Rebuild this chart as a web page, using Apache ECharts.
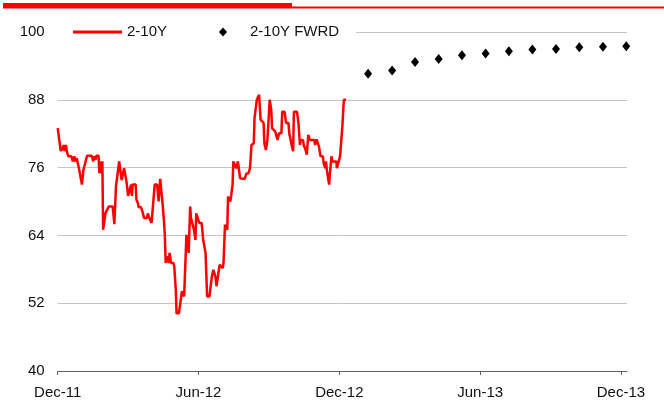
<!DOCTYPE html>
<html>
<head>
<meta charset="utf-8">
<script src="https://cdn.jsdelivr.net/npm/echarts@6/dist/echarts.min.js"></script>
<style>
html,body{margin:0;padding:0;background:#fff;}
#chart{width:664px;height:418px;}
</style>
</head>
<body>
<div id="chart"></div>
<script>
// ---- data ----
const spotName = '2-10Y';
const fwdName = '2-10Y FWRD';
const spotDates = ['2011-12-01','2011-12-03','2011-12-04','2011-12-05','2011-12-06','2011-12-07','2011-12-09','2011-12-10','2011-12-12','2011-12-13','2011-12-15','2011-12-17','2011-12-19','2011-12-21','2011-12-23','2011-12-24','2011-12-26','2011-12-27','2011-12-29','2011-12-31',
'2012-01-02','2012-01-04','2012-01-06','2012-01-08','2012-01-09','2012-01-15','2012-01-17','2012-01-18','2012-01-20','2012-01-21','2012-01-24','2012-01-25','2012-01-26','2012-01-28','2012-01-29','2012-01-30',
'2012-02-01','2012-02-02','2012-02-04','2012-02-06','2012-02-11','2012-02-13','2012-02-14','2012-02-15','2012-02-17','2012-02-19','2012-02-21','2012-02-22','2012-02-23','2012-02-25','2012-02-26','2012-02-28',
'2012-03-01','2012-03-05','2012-03-06','2012-03-07','2012-03-11','2012-03-12','2012-03-14','2012-03-15','2012-03-18','2012-03-20','2012-03-22','2012-03-26','2012-03-27','2012-03-29','2012-03-31',
'2012-04-01','2012-04-02','2012-04-05','2012-04-08','2012-04-10','2012-04-12','2012-04-14','2012-04-15','2012-04-17','2012-04-18','2012-04-19','2012-04-21','2012-04-23','2012-04-24','2012-04-26','2012-04-29','2012-04-30',
'2012-05-02','2012-05-03','2012-05-06','2012-05-08','2012-05-10','2012-05-11','2012-05-13','2012-05-15','2012-05-16','2012-05-18','2012-05-19','2012-05-21','2012-05-22','2012-05-24','2012-05-26','2012-05-28','2012-05-29','2012-05-31',
'2012-06-02','2012-06-05','2012-06-06','2012-06-07','2012-06-08','2012-06-10','2012-06-12','2012-06-15','2012-06-16','2012-06-18','2012-06-20','2012-06-22','2012-06-23','2012-06-24','2012-06-26','2012-06-28','2012-06-30',
'2012-07-02','2012-07-03','2012-07-05','2012-07-07','2012-07-08','2012-07-09','2012-07-11','2012-07-12','2012-07-13','2012-07-15','2012-07-16','2012-07-18','2012-07-20','2012-07-22','2012-07-23','2012-07-25','2012-07-27','2012-07-31',
'2012-08-02','2012-08-05','2012-08-07','2012-08-09','2012-08-11','2012-08-12','2012-08-13','2012-08-15','2012-08-16','2012-08-18','2012-08-19','2012-08-20','2012-08-21','2012-08-22','2012-08-25','2012-08-26','2012-08-28','2012-08-30',
'2012-09-01','2012-09-02','2012-09-04','2012-09-05','2012-09-09','2012-09-11','2012-09-12','2012-09-14','2012-09-17','2012-09-18','2012-09-21','2012-09-23','2012-09-26','2012-09-27','2012-09-29',
'2012-10-01','2012-10-02','2012-10-03','2012-10-07','2012-10-09','2012-10-11','2012-10-12','2012-10-15','2012-10-16','2012-10-18','2012-10-19','2012-10-20','2012-10-22','2012-10-24','2012-10-30','2012-10-31',
'2012-11-02','2012-11-04','2012-11-05','2012-11-07','2012-11-10','2012-11-11','2012-11-13','2012-11-14','2012-11-15','2012-11-16','2012-11-18','2012-11-19','2012-11-21','2012-11-22','2012-11-27','2012-11-28','2012-11-30',
'2012-12-02','2012-12-03','2012-12-05','2012-12-07','2012-12-10'];
const spotValues = [83.0,83.0,80.0,78.9,79.7,79.1,80.0,78.9,80.0,78.9,78.0,77.7,78.0,77.1,78.0,77.1,77.7,77.1,75.9,75.6,
73.0,75.6,75.9,77.7,78.1,78.1,77.1,78.0,77.4,78.1,78.1,75.0,77.1,75.0,77.1,65.0,
65.0,67.9,67.9,69.1,69.1,66.0,69.1,72.7,73.0,77.1,77.1,73.8,74.1,75.9,75.6,73.5,
71.0,73.0,71.0,73.0,73.0,70.3,69.7,69.0,69.0,68.2,67.1,67.1,67.9,67.1,67.1,
66.2,66.2,73.0,73.0,70.0,74.0,74.0,69.7,66.2,63.8,59.1,60.3,59.1,60.9,59.1,59.1,58.5,
54.4,50.2,50.2,52.0,54.1,54.1,53.2,60.3,64.1,64.1,60.9,69.1,67.1,67.4,65.0,63.2,67.9,67.9,
66.2,66.2,65.9,63.2,62.9,60.9,53.2,53.2,54.4,56.7,57.9,57.0,56.4,55.0,55.0,58.8,59.1,
58.2,59.1,65.9,66.2,65.0,70.9,70.9,70.0,70.9,73.0,77.1,77.1,75.9,77.1,77.1,74.1,74.0,74.0,
74.9,75.0,75.9,80.0,80.0,80.3,84.8,84.8,88.0,88.0,88.9,88.6,84.5,84.2,83.9,80.3,79.1,80.9,
80.9,88.0,86.2,83.0,82.4,82.7,80.9,82.1,82.1,85.9,85.9,83.9,83.9,82.1,81.8,
79.4,78.9,85.9,85.9,83.9,80.0,80.9,80.9,80.0,79.7,78.9,78.3,81.8,80.9,80.9,80.0,
81.0,80.9,79.7,78.0,78.0,76.8,75.9,77.1,75.6,74.7,73.0,75.0,78.0,77.1,77.1,75.9,75.9,
78.0,78.3,83.3,88.0,88.0];
const fwdDates = ['2013-01-08','2013-02-08','2013-03-08','2013-04-08','2013-05-08','2013-06-08','2013-07-08','2013-08-08','2013-09-08','2013-10-08','2013-11-08','2013-12-08'];
const fwdValues = [92.6,93.2,94.7,95.2,95.9,96.2,96.6,96.9,97.0,97.3,97.4,97.5];
const xTickLabels = ['Dec-11','Jun-12','Dec-12','Jun-13','Dec-13'];
const xTickDates = ['2011-12-01','2012-06-01','2012-12-01','2013-06-01','2013-12-01'];
const yMin = 40, yMax = 100, yStep = 12;
const xStartDate = '2011-12-01', xEndDate = '2013-12-09';

// months elapsed since Dec-2011 (fractional)
function monthIndex(s){
  const p = s.split('-').map(Number);
  const dim = new Date(p[0], p[1], 0).getDate();
  return (p[0]-2011)*12 + (p[1]-12) + (p[2]-1)/dim;
}
const spotData = spotDates.map((d,i)=>[monthIndex(d), spotValues[i]]);
const fwdData = fwdDates.map((d,i)=>[monthIndex(d), fwdValues[i]]);
const tickVals = xTickDates.map(monthIndex);
const labelMap = {};
tickVals.forEach((v,i)=>{ labelMap[Math.round(v*1000)] = xTickLabels[i]; });

const FONT = "'Liberation Sans', Arial, sans-serif";
const chart = echarts.init(document.getElementById('chart'), null, {renderer:'canvas'});
chart.setOption({
  animation:false,
  backgroundColor:'#fff',
  textStyle:{fontFamily:FONT},
  grid:{left:57.7, right:37, top:32, bottom:47, containLabel:false},
  xAxis:{
    type:'value', min:monthIndex(xStartDate), max:monthIndex(xEndDate), interval:6,
    axisLine:{show:true, lineStyle:{color:'#606060', width:1}},
    axisTick:{show:true, length:4, inside:false, lineStyle:{color:'#606060'}, customValues:tickVals},
    axisLabel:{show:true, color:'#111', fontSize:15, fontFamily:FONT, margin:14, customValues:tickVals,
      formatter:function(v){ const k = Math.round(v*1000); return labelMap[k] || ''; }},
    splitLine:{show:false}
  },
  yAxis:{
    type:'value', min:yMin, max:yMax, interval:yStep,
    axisLine:{show:false}, axisTick:{show:false},
    axisLabel:{color:'#111', fontSize:15, fontFamily:FONT, margin:13},
    splitLine:{show:true, lineStyle:{color:'#c4c4c4', width:1}}
  },
  legend:[
    {data:[{name:spotName, icon:'rect'}], left:68, top:19, itemWidth:49, itemHeight:3,
     textStyle:{fontSize:15, color:'#111', fontFamily:FONT, lineHeight:16}, z:20},
    {data:[{name:fwdName, icon:'diamond', itemStyle:{color:'#000', opacity:1}}], left:214, top:19, itemWidth:8, itemHeight:9,
     textStyle:{fontSize:15, color:'#111', fontFamily:FONT, lineHeight:16, padding:[0,0,0,18]}, z:20}
  ],
  graphic:[
    {type:'rect', left:50, top:26, shape:{width:306, height:12}, style:{fill:'#fff'}, z:10, silent:true},
    {type:'rect', left:3, top:3, shape:{width:289, height:5}, style:{fill:'#ff0000'}, z:10, silent:true},
    {type:'rect', left:3, top:6.5, shape:{width:661, height:2}, style:{fill:'#ff0000'}, z:10, silent:true}
  ],
  series:[
    {name:spotName, type:'line', data:spotData, showSymbol:false, symbol:'none',
     lineStyle:{color:'#ff0000', width:2.5}, itemStyle:{color:'#ff0000'}, z:3},
    {name:fwdName, type:'scatter', data:fwdData, symbol:'diamond', symbolSize:[8,10],
     itemStyle:{color:'#000', opacity:1}, z:4, clip:false}
  ]
});
</script>
</body>
</html>
